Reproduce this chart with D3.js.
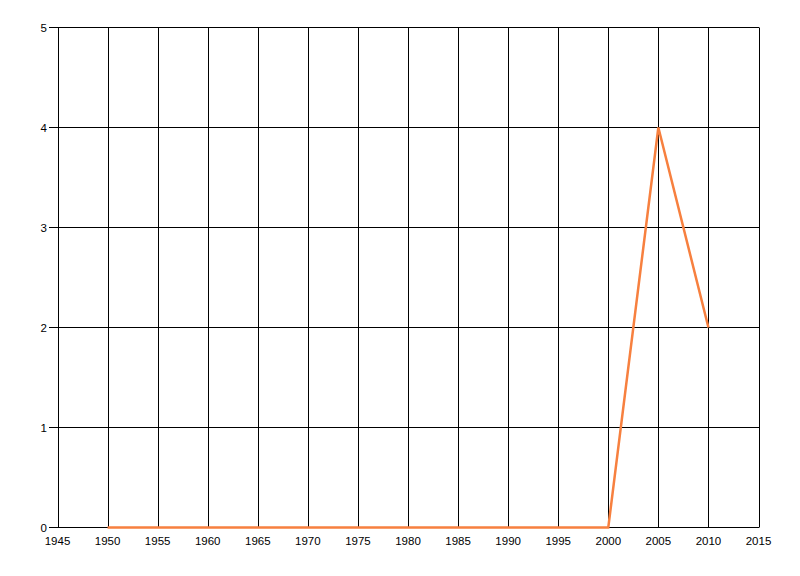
<!DOCTYPE html>
<html><head><meta charset="utf-8">
<script src="https://cdn.jsdelivr.net/npm/d3@7"></script>
<style>body{margin:0;background:#fff}svg{display:block}</style>
</head><body>
<script>
const years = [1950,1955,1960,1965,1970,1975,1980,1985,1990,1995,2000,2005,2010];
const values = [0,0,0,0,0,0,0,0,0,0,0,4,2];
const xTicks = [1945,1950,1955,1960,1965,1970,1975,1980,1985,1990,1995,2000,2005,2010,2015];
const yTicks = [0,1,2,3,4,5];

const W=800,H=576;
const svg=d3.select("body").append("svg").attr("width",W).attr("height",H);
const x=d3.scaleLinear().domain([1945,2015]).range([57.5,758.5]);
const y=d3.scaleLinear().domain([0,5]).range([527.5,27.5]);
const font="'Liberation Sans', Arial, sans-serif";

// vertical grid
svg.append("g").selectAll("line").data(xTicks).join("line")
  .attr("x1",d=>Math.round(x(d))+0.5).attr("x2",d=>Math.round(x(d))+0.5)
  .attr("y1",y(5)).attr("y2",y(0)).attr("stroke","#000").attr("stroke-width",1);
// horizontal grid
svg.append("g").selectAll("line").data(yTicks).join("line")
  .attr("x1",49).attr("x2",x(2015)+0.5)
  .attr("y1",d=>Math.round(y(d)-0.5)+0.5).attr("y2",d=>Math.round(y(d)-0.5)+0.5)
  .attr("stroke","#000").attr("stroke-width",1);

// y labels
svg.append("g").selectAll("text").data(yTicks).join("text")
  .attr("x",47).attr("y",d=>y(d)+4).attr("text-anchor","end")
  .attr("font-family",font).attr("font-size",11.5).text(d=>d);
// x labels
svg.append("g").selectAll("text").data(xTicks).join("text")
  .attr("x",d=>x(d)).attr("y",545).attr("text-anchor","middle")
  .attr("font-family",font).attr("font-size",11.5).text(d=>d);

const line=d3.line().x((d,i)=>x(years[i])).y(d=>y(d));
svg.append("path").datum(values).attr("d",line)
  .attr("fill","none").attr("stroke","#f7803f").attr("stroke-width",2.5).attr("stroke-linejoin","miter");
</script>
</body></html>
